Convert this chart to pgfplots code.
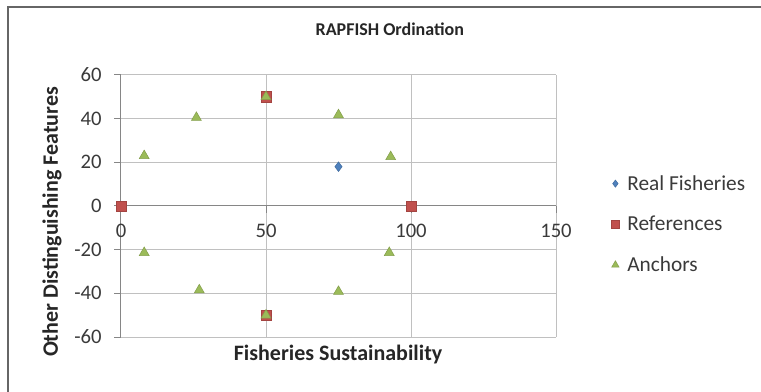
\documentclass[border=0pt]{standalone}
\usepackage{fontspec}
\setmainfont{Carlito}
\usepackage{pgfplots}
\pgfplotsset{compat=1.18}
\definecolor{xlblue}{HTML}{4F81BD}
\definecolor{xlred}{HTML}{C0504D}
\definecolor{xlgreen}{HTML}{9BBB59}
\definecolor{gridgray}{HTML}{C0C0C0}
\definecolor{axgray}{HTML}{868686}
\definecolor{txt}{HTML}{3A3A3A}
\begin{document}
\begin{tikzpicture}
\useasboundingbox (0pt,0pt) rectangle (570.75pt,-294pt);
\draw[gray!80!black, line width=1.3pt] (6pt,-294pt) -- (6pt,-5.25pt) -- (570.75pt,-5.25pt);
\begin{axis}[
  at={(90.75pt,-252.75pt)}, anchor=south west,
  scale only axis, width=326.25pt, height=196.5pt,
  xmin=0, xmax=150, ymin=-60, ymax=60,
  xtick={0,50,100,150}, ytick={-60,-40,...,60},
  axis x line=middle, axis y line=left,
  axis line style={axgray, line width=0.75pt, -},
  hide obscured x ticks=false,
  grid=major, major grid style={gridgray, line width=0.75pt},
  tick style={axgray, line width=0.75pt},
  tick align=outside, major tick length=5pt,
  ticklabel style={font=\fontsize{15.5}{18}\selectfont, text=txt},
  /pgf/number format/assume math mode=true,
  xticklabel style={anchor=north, yshift=-5pt},
  yticklabel style={anchor=east, xshift=-6pt},
  title={\textbf{RAPFISH Ordination}},
  title style={at={(rel axis cs:0.618,1.145)}, anchor=center, font=\fontsize{13.5}{16}\selectfont, text=black!85},
  xlabel={\textbf{Fisheries Sustainability}},
  xlabel style={at={(rel axis cs:0.499,-0.0687)}, anchor=center, font=\fontsize{16.5}{19}\selectfont, text=black!85},
  ylabel={\textbf{Other Distinguishing  Features}},
  ylabel style={at={(rel axis cs:-0.1586,0.439)}, anchor=center, rotate=0, font=\fontsize{16.5}{19}\selectfont, text=black!85},
  legend style={at={(rel axis cs:1.127,0.43)}, anchor=west, draw=none, fill=none,
    font=\fontsize{16}{19}\selectfont, text=txt, row sep=14pt, inner sep=0pt,
    /tikz/every odd column/.append style={column sep=4pt}},
  legend cell align=left,
  legend image post style={scale=0.75},
  clip=false,
]
\addplot[only marks, mark=diamond*, mark size=3.6pt, color=xlblue, mark options={fill=xlblue, draw=xlblue!85!black, line width=0.4pt}]
  coordinates {(75,18)};
\addlegendentry{Real Fisheries}
\addplot[only marks, mark=square*, mark size=3.9pt, color=xlred, mark options={fill=xlred, draw=xlred!85!black, line width=0.4pt}]
  coordinates {(0,0) (100,0) (50,50) (50,-50)};
\addlegendentry{References}
\addplot[only marks, mark=triangle*, mark size=4.3pt, color=xlgreen, mark options={fill=xlgreen, draw=xlgreen!85!black, line width=0.4pt}]
  coordinates {(8,23) (26,40.5) (50,50) (75,41.7) (93,22.5) (8,-21.4) (27,-38.5) (50,-50) (75,-39.2) (92.5,-21.4)};
\addlegendentry{Anchors}
\end{axis}
\end{tikzpicture}
\end{document}
